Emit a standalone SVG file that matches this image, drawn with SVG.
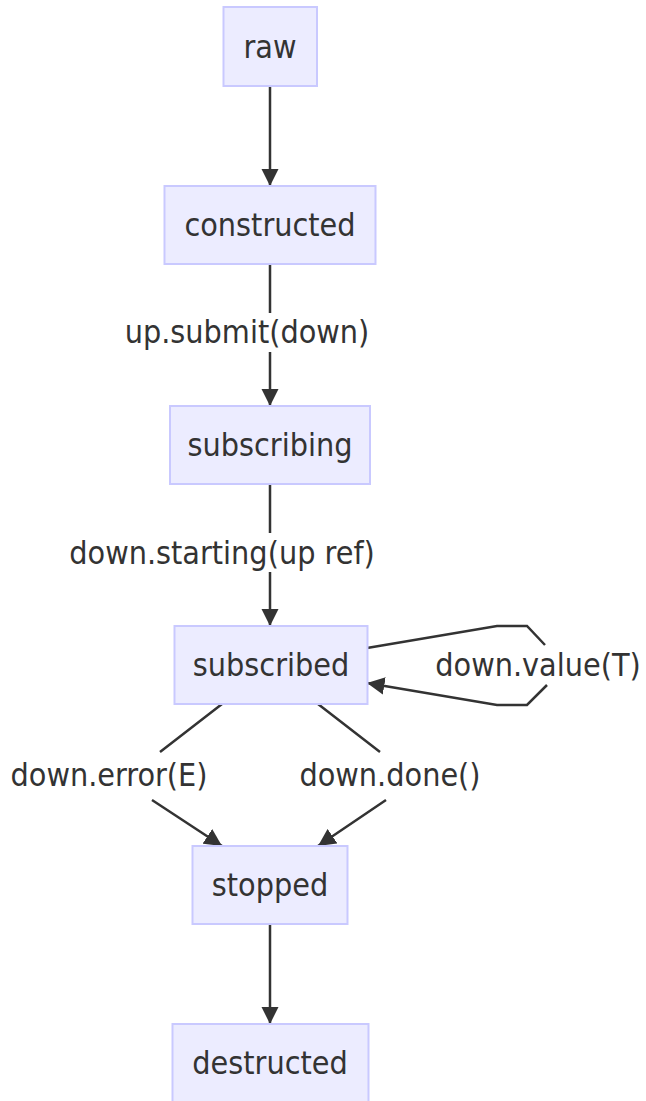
<svg xmlns="http://www.w3.org/2000/svg" width="646" height="1101" viewBox="0 0 646 1101">
<style>
.node rect{fill:#ECECFF;stroke:#C9C9FF;stroke-width:2}
text{font-family:"DejaVu Sans Condensed","DejaVu Sans",sans-serif;font-stretch:condensed;font-size:32px;fill:#333;text-anchor:middle}
.edge{fill:none;stroke:#333;stroke-width:2.5}
</style>
<defs>
<marker id="arr" viewBox="0 0 10 10" refX="10" refY="5" markerWidth="7" markerHeight="7" markerUnits="strokeWidth" orient="auto">
<path d="M0,0 L10,5 L0,10 z" fill="#333"/>
</marker>
</defs>
<rect width="646" height="1101" fill="#fff"/>
<g id="edges">
<path class="edge" d="M270,86 L270,186" marker-end="url(#arr)"/>
<path class="edge" d="M270,264 L270,313 M270,352 L270,406" marker-end="url(#arr)"/>
<path class="edge" d="M270,484 L270,533 M270,572 L270,626" marker-end="url(#arr)"/>
<path class="edge" d="M222,704 L160,752 M152,800 L222,846" marker-end="url(#arr)"/>
<path class="edge" d="M318,704 L380,752 M386,800 L318,846" marker-end="url(#arr)"/>
<path class="edge" d="M367,648 L497,626 L527,626 L545,645 M547,685 L527,705 L497,705 L367,683" marker-end="url(#arr)"/>
<path class="edge" d="M270,924 L270,1024" marker-end="url(#arr)"/>
<text x="247" y="343">up.submit(down)</text>
<text x="222" y="564">down.starting(up ref)</text>
<text x="538" y="676">down.value(T)</text>
<text x="109" y="786">down.error(E)</text>
<text x="390" y="786">down.done()</text>
</g>
<g id="raw" class="node"><rect x="223.5" y="7" width="93.5" height="79"/><text x="270" y="58">raw</text></g>
<g id="constructed" class="node"><rect x="164.5" y="186" width="211" height="78"/><text x="270" y="236">constructed</text></g>
<g id="subscribing" class="node"><rect x="170" y="406" width="200" height="78"/><text x="270" y="456">subscribing</text></g>
<g id="subscribed" class="node"><rect x="174.5" y="626" width="193" height="78"/><text x="271" y="676">subscribed</text></g>
<g id="stopped" class="node"><rect x="192.5" y="846" width="155" height="78"/><text x="270" y="896">stopped</text></g>
<g id="destructed" class="node"><rect x="172.5" y="1024" width="196" height="78"/><text x="270" y="1074">destructed</text></g>
</svg>
